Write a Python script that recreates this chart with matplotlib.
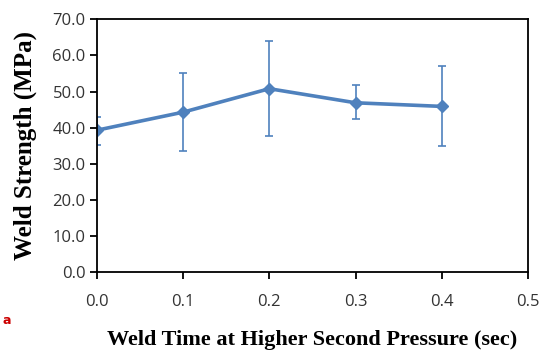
import matplotlib

matplotlib.use("Agg")

import matplotlib.pyplot as plt

# Weld time (sec) vs weld strength (MPa), with error bars
weld_time = [0.0, 0.1, 0.2, 0.3, 0.4]
strength = [39.3, 44.3, 50.8, 46.9, 45.9]
err_upper = [43.1, 55.1, 63.9, 51.7, 57.2]
err_lower = [35.2, 33.6, 37.6, 42.5, 34.8]

yerr = [
    [s - lo for s, lo in zip(strength, err_lower)],
    [hi - s for s, hi in zip(strength, err_upper)],
]

blue = "#4F81BD"

fig = plt.figure(figsize=(5.41, 3.59), dpi=100)
ax = fig.add_axes([0.179, 0.242, 0.797, 0.704])

ax.errorbar(
    weld_time,
    strength,
    yerr=yerr,
    color=blue,
    lw=2.6,
    marker="D",
    markersize=6.5,
    ecolor=blue,
    elinewidth=1.2,
    capsize=3,
    capthick=1.2,
)

ax.set_xlim(0, 0.5)
ax.set_ylim(0, 70)
ax.set_xticks([0.0, 0.1, 0.2, 0.3, 0.4, 0.5])
ax.set_xticklabels([f"{v:.1f}" for v in [0.0, 0.1, 0.2, 0.3, 0.4, 0.5]])
ax.set_yticks(range(0, 71, 10))
ax.set_yticklabels([f"{v:.1f}" for v in range(0, 71, 10)])

for side in ax.spines.values():
    side.set_linewidth(1.3)
    side.set_color("black")

ax.tick_params(axis="both", direction="out", length=5, width=1.3,
               labelsize=12, colors="black")
ax.tick_params(axis="x", pad=11)
ax.tick_params(axis="y", pad=3)
for lbl in ax.get_xticklabels() + ax.get_yticklabels():
    lbl.set_family("Open Sans")
    lbl.set_color("#333333")

ax.set_xlabel("Weld Time at Higher Second Pressure (sec)",
              family="Liberation Serif", fontweight="bold", fontsize=16, labelpad=14)
ax.set_ylabel("Weld Strength (MPa)",
              family="Liberation Serif", fontweight="bold", fontsize=18, labelpad=11)

fig.text(0.005, 1 - 320 / 359, "a", color="#cc0000", fontweight="bold",
         fontsize=9, va="center", ha="left")

fig.savefig("out.png", dpi=100)
